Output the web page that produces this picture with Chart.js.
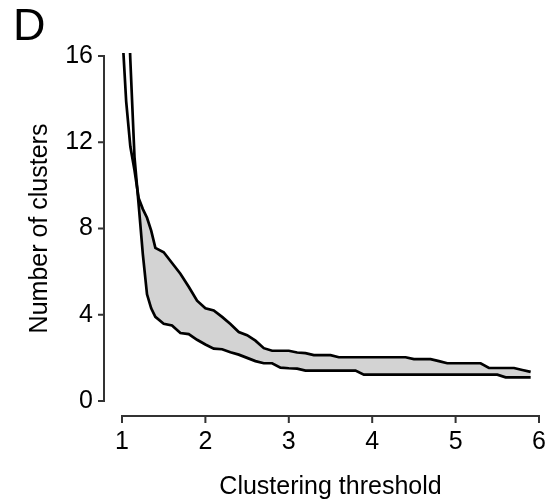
<!DOCTYPE html>
<html>
<head>
<meta charset="utf-8">
<script src="https://cdn.jsdelivr.net/npm/chart.js@4.4.1/dist/chart.umd.min.js"></script>
<style>
html, body { margin: 0; padding: 0; background: #fff; }
</style>
</head>
<body>
<canvas id="chart" width="551" height="502"></canvas>
<script>
// clustering threshold (x)
const thresholds = [1.0, 1.05, 1.1, 1.15, 1.2, 1.25, 1.3, 1.35, 1.4, 1.5, 1.6, 1.7, 1.8, 1.9,
    2.0, 2.1, 2.2, 2.3, 2.4, 2.5, 2.6, 2.7, 2.8, 2.9, 3.0, 3.1, 3.2, 3.3, 3.4, 3.5, 3.6, 3.7, 3.8, 3.9,
    4.0, 4.1, 4.2, 4.3, 4.4, 4.5, 4.6, 4.7, 4.8, 4.9, 5.0, 5.1, 5.2, 5.3, 5.4, 5.5, 5.6, 5.7, 5.8, 5.9];

// upper boundary of the band (right side)
const upperClusters = [17.3, 13.9, 11.8, 10.7, 9.4, 8.9, 8.5, 7.9, 7.1, 6.9, 6.4, 5.9, 5.3, 4.65,
    4.3, 4.2, 3.9, 3.57, 3.2, 3.05, 2.8, 2.45, 2.33, 2.33, 2.33, 2.25, 2.22, 2.13, 2.13, 2.13, 2.03, 2.03, 2.03, 2.03,
    2.03, 2.03, 2.03, 2.03, 2.03, 1.94, 1.94, 1.94, 1.85, 1.75, 1.75, 1.75, 1.75, 1.75, 1.53, 1.53, 1.53, 1.53, 1.44, 1.35];

// lower boundary of the band (right side)
const lowerClusters = [26, 21, 15.8, 11.3, 9.1, 6.8, 4.95, 4.3, 3.9, 3.58, 3.5, 3.15, 3.1, 2.84,
    2.62, 2.43, 2.4, 2.26, 2.15, 2.0, 1.85, 1.75, 1.75, 1.55, 1.52, 1.5, 1.41, 1.41, 1.41, 1.41, 1.41, 1.41, 1.41, 1.22,
    1.22, 1.22, 1.22, 1.22, 1.22, 1.22, 1.22, 1.22, 1.22, 1.22, 1.22, 1.22, 1.22, 1.22, 1.22, 1.22, 1.1, 1.1, 1.1, 1.1];

const xTickValues = [1, 2, 3, 4, 5, 6];
const yTickValues = [0, 4, 8, 12, 16];

const FONT = '"Liberation Sans", Arial, sans-serif';

// R-style detached axes, drawn a little away from the plot region
const offsetAxes = {
    id: 'offsetAxes',
    afterDraw(chart) {
        const { ctx, chartArea, scales } = chart;
        const sx = scales.x, sy = scales.y;

        ctx.save();
        ctx.strokeStyle = '#333';
        ctx.lineWidth = 2;
        ctx.lineCap = 'square';

        // x axis
        const yb = chartArea.bottom + 15;
        ctx.beginPath();
        ctx.moveTo(sx.getPixelForValue(xTickValues[0]), yb);
        ctx.lineTo(sx.getPixelForValue(xTickValues[xTickValues.length - 1]), yb);
        xTickValues.forEach(v => {
            const px = sx.getPixelForValue(v);
            ctx.moveTo(px, yb);
            ctx.lineTo(px, yb + 6);
        });
        ctx.stroke();

        // y axis
        const xl = chartArea.left - 18;
        ctx.beginPath();
        ctx.moveTo(xl, sy.getPixelForValue(yTickValues[0]));
        ctx.lineTo(xl, sy.getPixelForValue(yTickValues[yTickValues.length - 1]));
        yTickValues.forEach(v => {
            const py = sy.getPixelForValue(v);
            ctx.moveTo(xl, py);
            ctx.lineTo(xl - 5, py);
        });
        ctx.stroke();

        ctx.restore();
    }
};

new Chart(document.getElementById('chart').getContext('2d'), {
    type: 'line',
    data: {
        datasets: [{
            label: 'upper',
            data: thresholds.map((t, i) => ({ x: t, y: upperClusters[i] })),
            borderColor: '#000',
            borderWidth: 2.7,
            pointRadius: 0,
            tension: 0,
            clip: { left: 10, top: 3, right: 10, bottom: 10 },
            fill: { target: 1, above: '#d3d3d3', below: 'rgba(0,0,0,0)' }
        }, {
            label: 'lower',
            data: thresholds.map((t, i) => ({ x: t, y: lowerClusters[i] })),
            borderColor: '#000',
            borderWidth: 2.7,
            pointRadius: 0,
            tension: 0,
            clip: { left: 10, top: 3, right: 10, bottom: 10 },
            fill: false
        }]
    },
    options: {
        responsive: false,
        animation: false,
        layout: { padding: { left: 13, right: 12, top: 0, bottom: 0 } },
        plugins: {
            legend: { display: false },
            tooltip: { enabled: false },
            filler: { drawTime: 'beforeDatasetsDraw' },
            title: {
                display: true,
                text: 'D',
                align: 'start',
                color: '#000',
                font: { family: FONT, size: 45, weight: 'normal', lineHeight: 1 },
                padding: { top: 5, bottom: 6 }
            }
        },
        scales: {
            x: {
                type: 'linear',
                min: 1,
                max: 6,
                afterBuildTicks: s => { s.ticks = xTickValues.map(v => ({ value: v })); },
                afterFit: s => { s.height = 101; s.paddingLeft = 0; s.paddingRight = 0; },
                grid: { display: false, drawTicks: false },
                border: { display: false },
                ticks: { color: '#000', padding: 26, font: { family: FONT, size: 25 } },
                title: {
                    display: true,
                    text: 'Clustering threshold',
                    color: '#000',
                    font: { family: FONT, size: 25, lineHeight: 1.2 },
                    padding: { top: 0, bottom: 0 }
                }
            },
            y: {
                type: 'linear',
                min: 0,
                max: 16,
                afterBuildTicks: s => { s.ticks = yTickValues.map(v => ({ value: v })); },
                afterFit: s => { s.width = 109; s.paddingTop = 0; s.paddingBottom = 0; },
                grid: { display: false, drawTicks: false },
                border: { display: false },
                ticks: { color: '#000', padding: 29, font: { family: FONT, size: 25 } },
                title: {
                    display: true,
                    text: 'Number of clusters',
                    color: '#000',
                    font: { family: FONT, size: 25, lineHeight: 1.2 },
                    padding: { top: 12, bottom: 0 }
                }
            }
        }
    },
    plugins: [offsetAxes]
});
</script>
</body>
</html>
